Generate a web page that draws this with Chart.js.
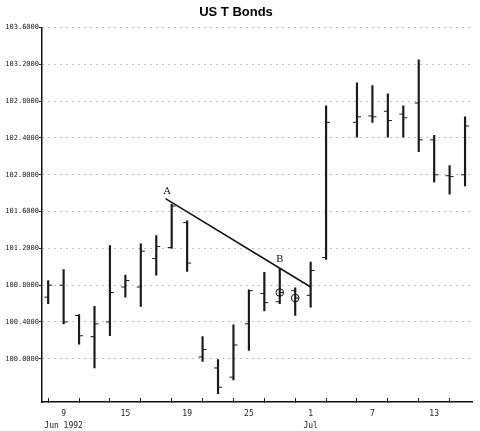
<!DOCTYPE html>
<html>
<head>
<meta charset="utf-8">
<script src="https://cdn.jsdelivr.net/npm/chart.js@4/dist/chart.umd.min.js"></script>
<style>
  html, body { margin: 0; padding: 0; background: #fff; }
  #wrap { width: 480px; height: 431px; }
</style>
</head>
<body>
<div id="wrap"><canvas id="chart" width="480" height="431"></canvas></div>
<script>
// trading days, Jun 8 1992 .. Jul 15 1992 (Jul 3 holiday, no bar)
const days = ['8','9','10','11','12','15','16','17','18','19','22','23','24','25','26','29','30',
              '1','2','3','6','7','8','9','10','13','14','15'];
const monthLabels = { 1: 'Jun 1992', 17: 'Jul' };

const highs  = [100.85,100.97,100.48,100.57,101.23,100.91,101.25,101.34,101.68,101.50,100.24,99.99,100.37,100.75,100.94,100.98,100.77,101.05,
                102.75,null,103.00,102.97,102.88,102.75,103.25,102.43,102.10,102.63];
const lows   = [100.60,100.38,100.16,99.90,100.25,100.67,100.57,100.91,101.20,100.95,99.97,99.62,99.77,100.09,100.52,100.60,100.47,100.56,
                101.08,null,102.41,102.57,102.41,102.41,102.25,101.92,101.79,101.88];
const opens  = [100.67,100.80,100.47,100.24,100.40,100.78,100.78,101.09,101.21,101.48,100.02,99.90,99.80,100.38,100.71,100.62,100.74,100.69,
                101.10,null,102.57,102.64,102.69,102.66,102.78,102.38,101.99,102.00];
const closes = [100.80,100.40,100.25,100.38,100.72,100.85,101.17,101.22,101.66,101.04,100.10,99.69,100.15,100.74,100.61,100.72,100.66,100.96,
                102.57,null,102.63,102.63,102.59,102.62,102.38,102.00,101.98,102.53];

// trend line A -> B and circled closes
const trendLine = [{ x: 7.6, y: 101.74 }, { x: 17, y: 100.78 }];
const circled = [{ x: 15, y: 100.72 }, { x: 16, y: 100.66 }];
const notes = [{ text: 'A', x: 7.7, y: 101.82 }, { text: 'B', x: 15, y: 101.08 }];

const yTicks = [100.0, 100.4, 100.8, 101.2, 101.6, 102.0, 102.4, 102.8, 103.2, 103.6];

const rangeData = [], openData = [], closeData = [];
days.forEach((d, i) => {
    if (highs[i] == null) return;
    rangeData.push({ x: i, y: [lows[i], highs[i]] });
    openData.push({ x: i - 0.13, y: opens[i] });
    closeData.push({ x: i + 0.13, y: closes[i] });
});

const notesPlugin = {
    id: 'notes',
    afterDatasetsDraw(chart) {
        const { ctx, scales } = chart;
        ctx.save();
        ctx.font = '10px "DejaVu Serif"';
        ctx.fillStyle = '#111';
        ctx.textAlign = 'center';
        ctx.textBaseline = 'middle';
        notes.forEach(n => {
            ctx.fillText(n.text, scales.x.getPixelForValue(n.x), scales.y.getPixelForValue(n.y));
        });
        ctx.restore();
    }
};

new Chart(document.getElementById('chart'), {
    type: 'bar',
    data: {
        datasets: [
            { type: 'bar', data: rangeData, backgroundColor: '#1a1a1a', barThickness: 1.5, order: 3 },
            { type: 'scatter', data: openData, pointStyle: 'line', radius: 2, borderColor: '#1a1a1a', borderWidth: 1, order: 2 },
            { type: 'scatter', data: closeData, pointStyle: 'line', radius: 2, borderColor: '#1a1a1a', borderWidth: 1, order: 2 },
            { type: 'line', data: trendLine, borderColor: '#111', borderWidth: 1.5, pointRadius: 0, order: 1 },
            { type: 'scatter', data: circled, pointStyle: 'circle', radius: 3.8, borderColor: '#111', borderWidth: 1,
              backgroundColor: 'rgba(0,0,0,0)', order: 0 }
        ]
    },
    options: {
        responsive: false,
        animation: false,
        layout: { padding: { left: 0, right: 8, top: 0, bottom: 0 } },
        plugins: {
            legend: { display: false },
            tooltip: { enabled: false },
            title: {
                display: true,
                text: 'US T Bonds',
                color: '#000',
                font: { family: '"Liberation Sans", Arial, sans-serif', size: 13, weight: 'bold' },
                padding: { top: 5, bottom: 7 }
            }
        },
        scales: {
            x: {
                type: 'linear',
                min: -0.4,
                max: 27.45,
                offset: false,
                afterBuildTicks: (scale) => {
                    const t = [];
                    for (let i = 1; i < days.length; i += 2) t.push({ value: i });
                    scale.ticks = t;
                },
                afterFit: (scale) => { scale.height = 29; },
                grid: { display: true, drawOnChartArea: false, tickLength: -4, tickColor: '#222', tickWidth: 1 },
                border: { display: true, color: '#111', width: 1.5 },
                ticks: {
                    autoSkip: false,
                    maxRotation: 0,
                    padding: 10,
                    color: '#222',
                    font: { family: '"DejaVu Sans Mono", monospace', size: 8, lineHeight: 1.5 },
                    callback: (v) => {
                        if ((v - 1) % 4 !== 0) return '';
                        const m = monthLabels[v];
                        return m ? [days[v], m] : days[v];
                    }
                }
            },
            y: {
                min: 99.53,
                max: 103.6,
                afterBuildTicks: (scale) => { scale.ticks = yTicks.map(v => ({ value: v })); },
                afterFit: (scale) => { scale.width = 42; },
                grid: { color: '#8a8a8a', lineWidth: 1, tickLength: 3, tickColor: '#222', tickWidth: 1 },
                border: { display: true, color: '#111', width: 1.5, dash: [1, 5] },
                ticks: {
                    padding: 0,
                    color: '#222',
                    font: { family: '"DejaVu Sans Mono", monospace', size: 7 },
                    callback: (v) => Number(v).toFixed(4)
                }
            }
        }
    },
    plugins: [notesPlugin]
});
</script>
</body>
</html>
